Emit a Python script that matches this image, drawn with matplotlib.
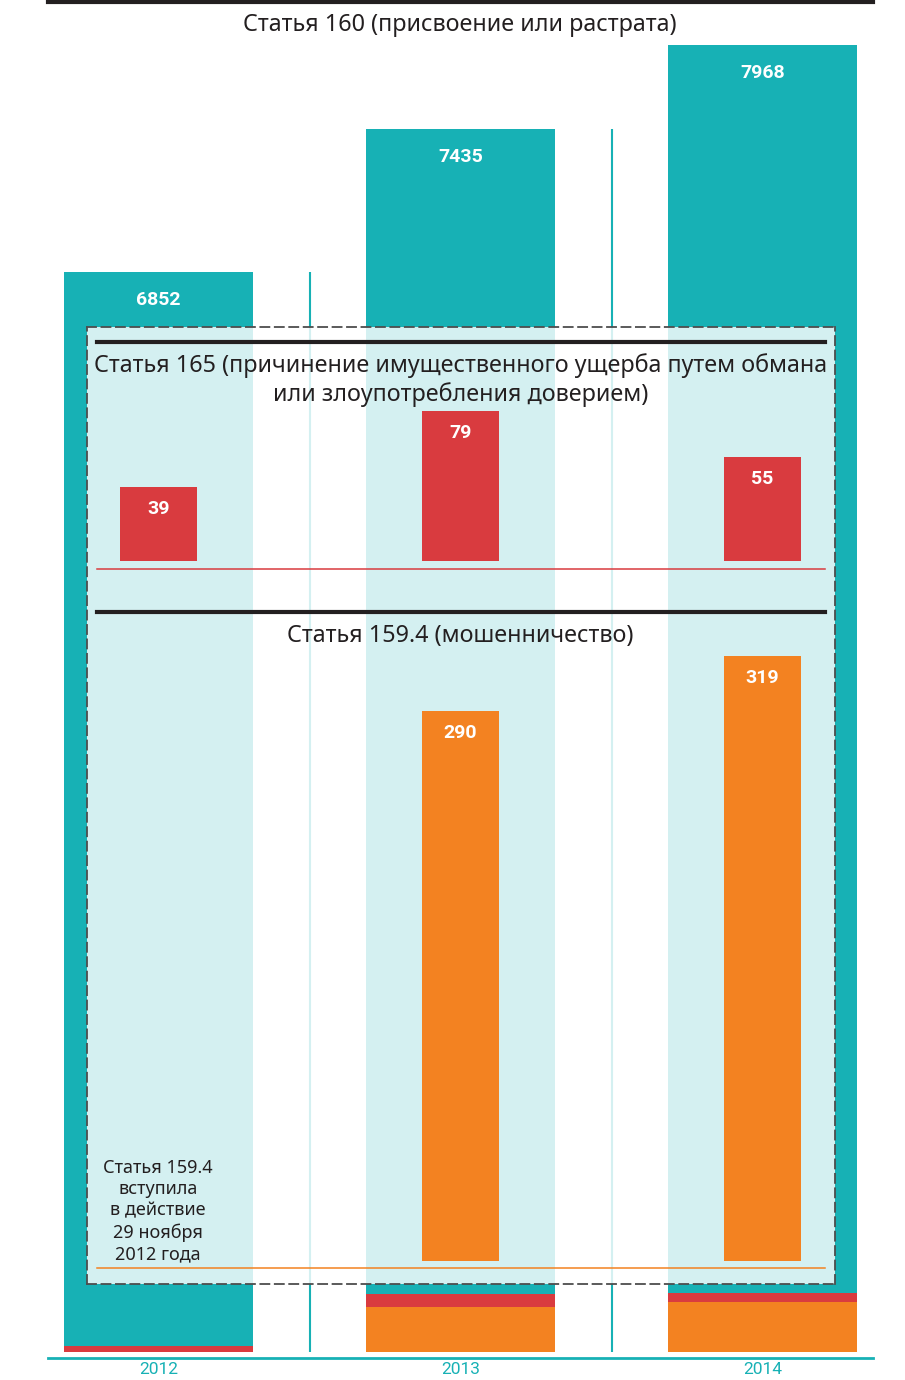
import matplotlib
matplotlib.use('Agg')
import matplotlib.pyplot as plt
import numpy as np

plt.rcParams['font.family'] = ['Roboto', 'DejaVu Sans']

years = ['2012', '2013', '2014']
st160 = [6852, 7435, 7968]   # присвоение или растрата
st165 = [39, 79, 55]         # причинение имущественного ущерба
st1594 = [0, 290, 319]       # мошенничество

title160 = 'Статья 160 (присвоение или растрата)'
title165 = 'Статья 165 (причинение имущественного ущерба путем обмана\nили злоупотребления доверием)'
title1594 = 'Статья 159.4 (мошенничество)'
note = 'Статья 159.4\nвступила\nв действие\n29 ноября\n2012 года'

TEAL = '#17b1b5'
RED = '#d93b3f'
ORANGE = '#f38221'
DARK = '#231f20'
TFONT = ['Noto Sans', 'DejaVu Sans']

W, H = 905, 1380
fig = plt.figure(figsize=(W / 100, H / 100), dpi=100)


def box(x0, y0, x1, y1):
    # пиксели (от верхнего левого угла) -> доли фигуры
    return [x0 / W, 1 - y1 / H, (x1 - x0) / W, (y1 - y0) / H]


def xl(p0, p1):
    return (p0 - 158.5) / 302, (p1 - 158.5) / 302


x = np.arange(len(years))
k = 0.1567  # px на одно дело в основном графике

ax = fig.add_axes(box(48, 2, 873, 1358))
ax.set_xlim(*xl(48, 873))
ax.set_ylim(-6 / k, 1350 / k)
b1 = np.array(st1594)
b2 = b1 + np.array(st165)
tot = b2 + np.array(st160)
ax.bar(x, st1594, 0.626, color=ORANGE, lw=0)
ax.bar(x, st165, 0.626, bottom=b1, color=RED, lw=0)
ax.bar(x, st160, 0.626, bottom=b2, color=TEAL, lw=0)
ax.vlines(x[:-1] + 0.5, 0, tot[:-1], color=TEAL, lw=1.5)
for xi, t, v in zip(x, tot, st160):
    ax.annotate(str(v), (xi, t), xytext=(0, -20), textcoords='offset points',
                ha='center', va='center', color='white', fontweight='bold', fontsize=14)
ax.set_xticks(x, years)
ax.set_yticks([])
ax.tick_params(axis='x', length=0, labelcolor=TEAL, labelsize=12.5, pad=3)
ax.spines['left'].set_visible(False)
ax.spines['right'].set_visible(False)
ax.spines['top'].set_color(DARK)
ax.spines['top'].set_linewidth(3)
ax.spines['bottom'].set_color(TEAL)
ax.spines['bottom'].set_linewidth(2)
fig.text(460 / W, 1 - 25 / H, title160, ha='center', va='center', color=DARK,
         fontsize=16.8, family=TFONT, fontweight='medium')

# полупрозрачная вставка
ov = fig.add_axes(box(87, 327, 835, 1284))
ov.set_facecolor((1, 1, 1, 0.82))
ov.set_xticks([])
ov.set_yticks([])
for sp in ov.spines.values():
    sp.set_linestyle((0, (5, 3)))
    sp.set_color('#4d4d4d')
    sp.set_linewidth(1.3)

s = 1.898  # px на одно дело во вставке

p1 = fig.add_axes(box(97, 342, 825, 569))
p1.patch.set_alpha(0)
p1.set_xlim(*xl(97, 825))
p1.set_ylim(-8 / s, (569 - 342 - 8) / s)
p1.bar(x, st165, 0.255, color=RED, lw=0)
for xi, v in zip(x, st165):
    p1.annotate(str(v), (xi, v), xytext=(0, -16), textcoords='offset points',
                ha='center', va='center', color='white', fontweight='bold', fontsize=14)

p2 = fig.add_axes(box(97, 612, 825, 1268))
p2.patch.set_alpha(0)
p2.set_xlim(*xl(97, 825))
p2.set_ylim(-7 / s, (1268 - 612 - 7) / s)
p2.bar(x, st1594, 0.255, color=ORANGE, lw=0)
for xi, v in zip(x, st1594):
    if v:
        p2.annotate(str(v), (xi, v), xytext=(0, -16), textcoords='offset points',
                    ha='center', va='center', color='white', fontweight='bold', fontsize=14)

for p, c in ((p1, RED), (p2, ORANGE)):
    p.set_xticks([])
    p.set_yticks([])
    p.spines['left'].set_visible(False)
    p.spines['right'].set_visible(False)
    p.spines['top'].set_color(DARK)
    p.spines['top'].set_linewidth(3)
    p.spines['bottom'].set_color(c)
    p.spines['bottom'].set_linewidth(1.1)

fig.text(461 / W, 1 - 380 / H, title165, ha='center', va='center', color=DARK,
         fontsize=16.8, family=TFONT, fontweight='medium', linespacing=1.22)
fig.text(460 / W, 1 - 636 / H, title1594, ha='center', va='center', color=DARK,
         fontsize=16.8, family=TFONT, fontweight='medium')
fig.text(158 / W, 1 - 1211 / H, note, ha='center', va='center', color=DARK,
         fontsize=13, family=TFONT, fontweight='medium', linespacing=1.25)

fig.savefig('out.png', dpi=100)
